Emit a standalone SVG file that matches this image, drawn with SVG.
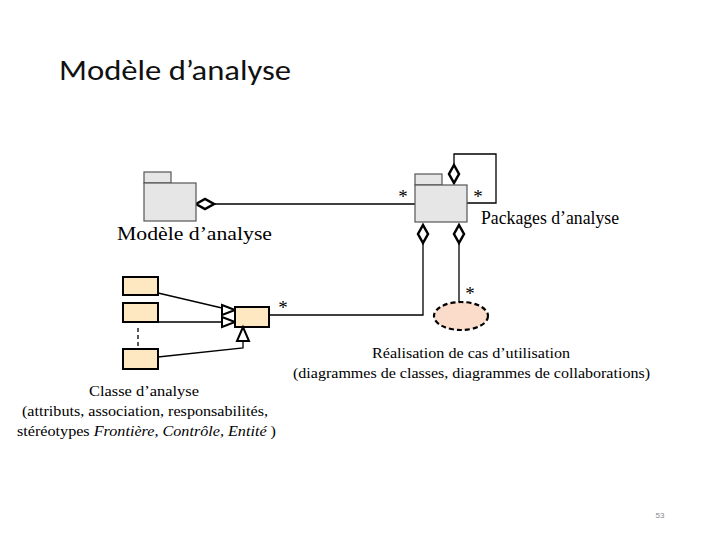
<svg xmlns="http://www.w3.org/2000/svg" width="720" height="540" viewBox="0 0 720 540">
<style>
.pkg{fill:#e6e6e6;stroke:#555;stroke-width:1.2}
.cls{fill:#fde8c2;stroke:#000;stroke-width:2}
.ln{fill:none;stroke:#000;stroke-width:1.3}
.dia{fill:#fff;stroke:#000;stroke-width:2.5}
.tri{fill:#fff;stroke:#000;stroke-width:2}
.ser{font-family:"Liberation Serif","Times New Roman",serif;fill:#000}
.ast{font-family:"Liberation Serif","Times New Roman",serif;fill:#000;font-size:19px;text-anchor:middle}
</style>
<rect width="720" height="540" fill="#fff"/>
<text x="59" y="80" font-family="Carlito,'Open Sans','Liberation Sans',sans-serif" font-size="28" textLength="232" lengthAdjust="spacingAndGlyphs" fill="#111">Modèle d’analyse</text>
<g id="connectors">
<path class="ln" d="M214,204 H415"/>
<path class="ln" d="M467,203 H496 V154 H454 V165"/>
<path class="ln" d="M423,243 V315 H269"/>
<path class="ln" d="M459,243 V302"/>
<path class="ln" d="M158,293 L222,308"/>
<path class="ln" d="M158,322 H222"/>
<path class="ln" d="M158,357 L243,348 V341"/>
<path class="ln" d="M138,328 V346" stroke-dasharray="4,3"/>
<polygon class="dia" points="196,204 205,199 214,204 205,209"/>
<polygon class="dia" points="454,165 459,174 454,183 449,174"/>
<polygon class="dia" points="423,225 428,234 423,243 418,234"/>
<polygon class="dia" points="459,225 464,234 459,243 454,234"/>
<polygon class="tri" points="235,310 222,305 222,315"/>
<polygon class="tri" points="235,322 222,317 222,327"/>
</g>
<g id="pkg-modele">
<rect class="pkg" x="144" y="172" width="27" height="11"/>
<rect class="pkg" x="144" y="183" width="52" height="38"/>
<text class="ser" x="117" y="240" font-size="18" textLength="155" lengthAdjust="spacingAndGlyphs">Modèle d’analyse</text>
</g>
<g id="pkg-packages">
<rect class="pkg" x="415" y="174" width="27" height="11"/>
<rect class="pkg" x="415" y="185" width="52" height="37"/>
<text class="ser" x="481" y="224" font-size="18" textLength="138" lengthAdjust="spacingAndGlyphs">Packages d’analyse</text>
</g>
<g id="classes">
<rect class="cls" x="123" y="277" width="35" height="18"/>
<rect class="cls" x="123" y="303" width="35" height="19"/>
<rect class="cls" x="123" y="349" width="35" height="20"/>
<rect class="cls" x="235" y="307" width="34" height="20"/>
<polygon class="tri" points="243,327 237,341 249,341"/>
</g>
<g id="realisation">
<ellipse cx="461" cy="316" rx="27" ry="14" fill="#fbdccb" stroke="#000" stroke-width="2.2" stroke-dasharray="5,3"/>
</g>
<g id="labels">
<text class="ast" x="403" y="203">*</text>
<text class="ast" x="478" y="203">*</text>
<text class="ast" x="283" y="314">*</text>
<text class="ast" x="470" y="300">*</text>
<text class="ser" x="372" y="358" font-size="15" textLength="198" lengthAdjust="spacingAndGlyphs">Réalisation de cas d’utilisation</text>
<text class="ser" x="293" y="378" font-size="15" textLength="357" lengthAdjust="spacingAndGlyphs">(diagrammes de classes, diagrammes de collaborations)</text>
<text class="ser" x="89" y="396" font-size="15" textLength="110" lengthAdjust="spacingAndGlyphs">Classe d’analyse</text>
<text class="ser" x="22" y="416" font-size="15" textLength="246" lengthAdjust="spacingAndGlyphs">(attributs, association, responsabilités,</text>
<text class="ser" x="17" y="436" font-size="15" textLength="259" lengthAdjust="spacingAndGlyphs">stéréotypes <tspan font-style="italic">Frontière, Contrôle, Entité</tspan> )</text>
</g>
<text x="660" y="518" font-family="'Liberation Sans',sans-serif" font-size="8" fill="#888" text-anchor="middle">53</text>
</svg>
